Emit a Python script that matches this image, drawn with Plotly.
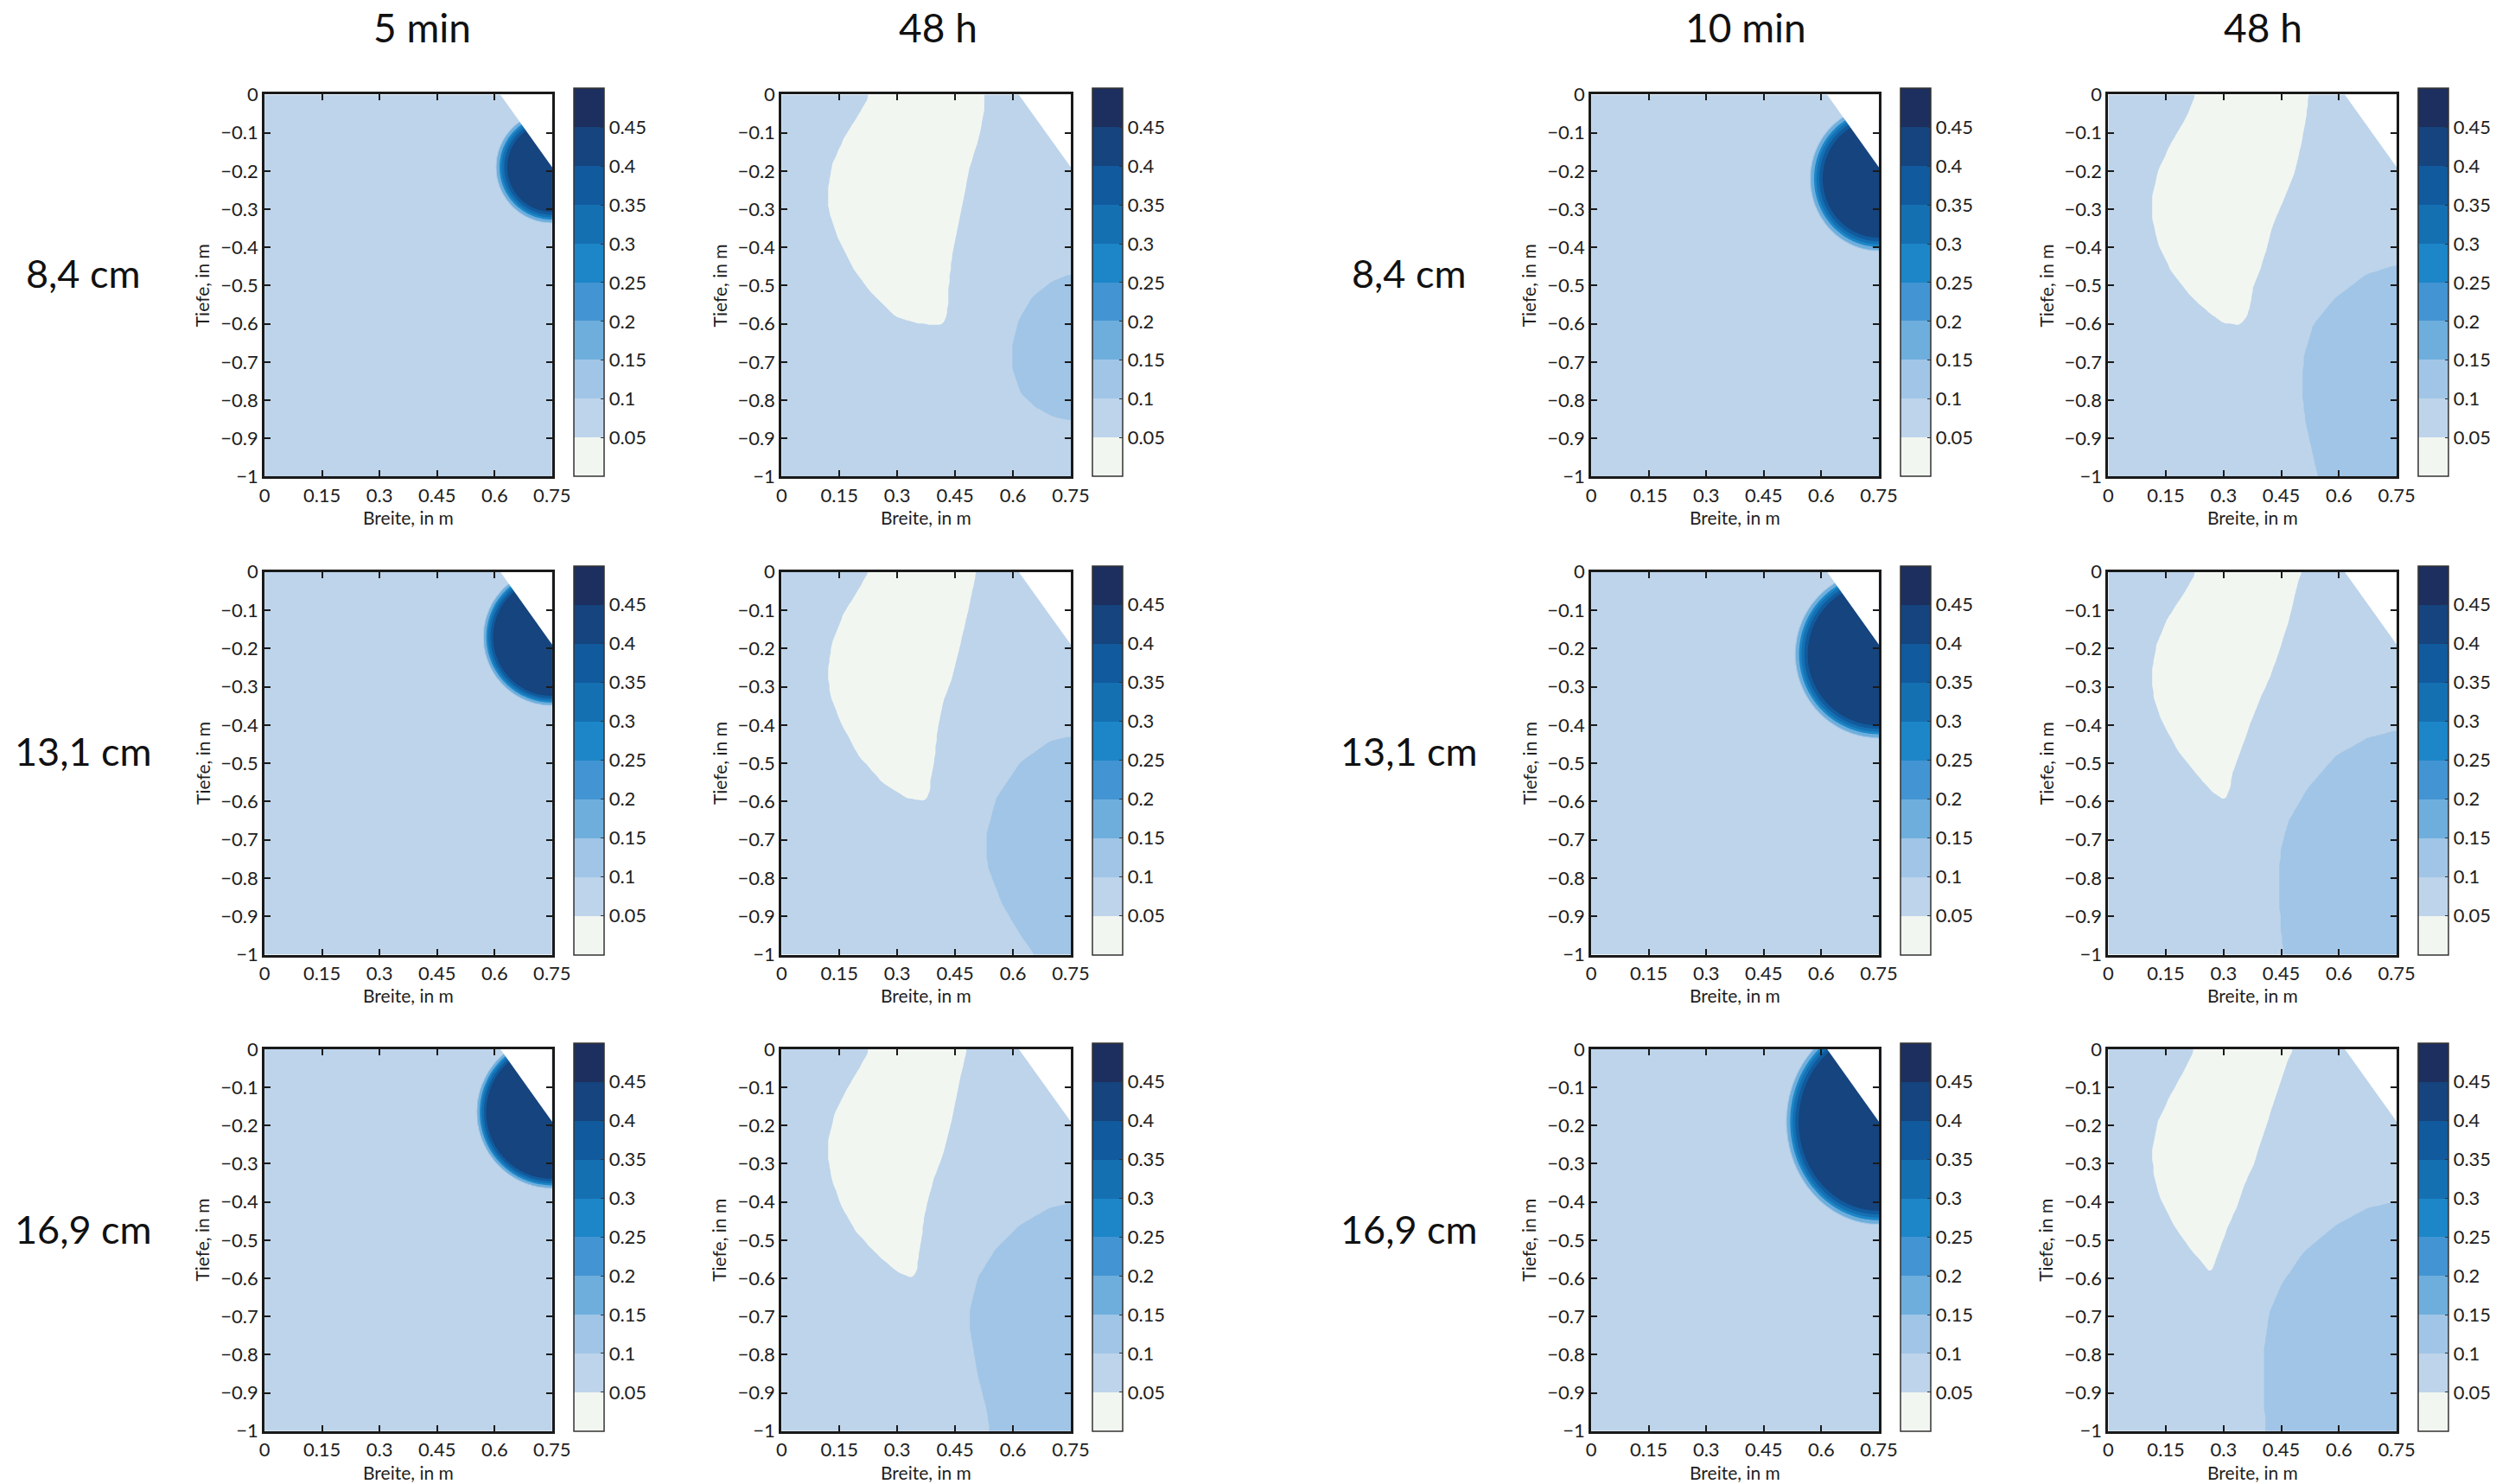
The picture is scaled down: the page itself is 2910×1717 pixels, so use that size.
import numpy as np
import plotly.graph_objects as go

W, H = 2910, 1717

# ---------------------------------------------------------------- labels
col_titles = ["5 min", "48 h", "10 min", "48 h"]
row_labels = ["8,4 cm", "13,1 cm", "16,9 cm"]
x_ticks = [0, 0.15, 0.3, 0.45, 0.6, 0.75]
x_ticktext = ["0", "0.15", "0.3", "0.45", "0.6", "0.75"]
y_ticks = [0, -0.1, -0.2, -0.3, -0.4, -0.5, -0.6, -0.7, -0.8, -0.9, -1]
y_ticktext = ["0", "\u22120.1", "\u22120.2", "\u22120.3", "\u22120.4", "\u22120.5",
              "\u22120.6", "\u22120.7", "\u22120.8", "\u22120.9", "\u22121"]
cbar_ticks = [0.05, 0.1, 0.15, 0.2, 0.25, 0.3, 0.35, 0.4, 0.45]
cbar_ticktext = ["0.05", "0.1", "0.15", "0.2", "0.25", "0.3", "0.35", "0.4", "0.45"]

# ------------------------------------------------- water content classes
level_start, level_end, level_step = 0.05, 0.45, 0.05
cbar_min, cbar_max = 0.0, 0.5
band_colors = ["#f2f6f0", "#bdd4eb", "#a1c5e6", "#6eaedc", "#4394d2",
               "#1c86c8", "#1570b2", "#105a9d", "#15447e", "#1c2f5e"]

theta_background = 0.075   # initial soil moisture
theta_dry = 0.02           # dried-out zone after 48 h
theta_wet = 0.125          # deeper wetted zone after 48 h
theta_core = 0.43          # saturated bulb under the dripper
front_shape = 0.55         # steepness of the wetting front

# ------------------------------------------ wetted bulbs (5 / 10 min)
bulb_5min_cx = [0.75, 0.75, 0.75]
bulb_5min_cy = [-0.19, -0.17, -0.165]
bulb_5min_rx = [0.147, 0.18, 0.197]
bulb_5min_ry = [0.147, 0.18, 0.20]
bulb_5min_core = [0.76, 0.83, 0.85]

bulb_10min_cx = [0.75, 0.75, 0.75]
bulb_10min_cy = [-0.22, -0.215, -0.19]
bulb_10min_rx = [0.18, 0.219, 0.242]
bulb_10min_ry = [0.19, 0.22, 0.27]
bulb_10min_core = [0.78, 0.82, 0.84]

# ---------------------------------- dry zones after 48 h (outline x / y)
dry_84_5_x = [0.225, 0.225, 0.201, 0.163, 0.132, 0.120, 0.124, 0.147, 0.186, 0.232, 0.294,
              0.356, 0.418, 0.429, 0.433, 0.441, 0.464, 0.487, 0.511, 0.526, 0.522]
dry_84_5_y = [0.02, -0.01, -0.051, -0.113, -0.183, -0.253, -0.308, -0.377, -0.455, -0.518, -0.58,
              -0.599, -0.602, -0.572, -0.502, -0.424, -0.308, -0.191, -0.113, -0.035, 0.02]

dry_131_5_x = [0.2245, 0.2245, 0.201, 0.1625, 0.1316, 0.120, 0.128, 0.155, 0.201, 0.263, 0.325,
               0.372, 0.383, 0.387, 0.395, 0.399, 0.403, 0.418, 0.441, 0.464, 0.487, 0.503, 0.505]
dry_131_5_y = [0.02, -0.002, -0.045, -0.107, -0.185, -0.263, -0.325, -0.395, -0.481, -0.551, -0.590,
               -0.598, -0.574, -0.535, -0.497, -0.458, -0.419, -0.341, -0.279, -0.185, -0.084, -0.006, 0.02]

dry_169_5_x = [0.224, 0.224, 0.201, 0.170, 0.139, 0.123, 0.122, 0.131, 0.154, 0.193, 0.247, 0.301,
               0.340, 0.351, 0.355, 0.363, 0.369, 0.378, 0.394, 0.417, 0.440, 0.463, 0.478, 0.480]
dry_169_5_y = [0.02, -0.010, -0.052, -0.105, -0.166, -0.234, -0.287, -0.340, -0.408, -0.477, -0.537, -0.583,
               -0.599, -0.575, -0.537, -0.492, -0.439, -0.400, -0.340, -0.279, -0.188, -0.074, -0.010, 0.02]

dry_84_10_x = [0.225, 0.225, 0.205, 0.164, 0.131, 0.115, 0.116, 0.131, 0.164, 0.213, 0.262, 0.303,
               0.344, 0.361, 0.369, 0.377, 0.393, 0.410, 0.426, 0.459, 0.484, 0.500, 0.512, 0.520, 0.521]
dry_84_10_y = [0.02, -0.006, -0.057, -0.127, -0.197, -0.267, -0.330, -0.392, -0.462, -0.525, -0.571, -0.599,
               -0.601, -0.579, -0.548, -0.501, -0.462, -0.408, -0.345, -0.267, -0.205, -0.135, -0.072, -0.006, 0.02]

dry_131_10_x = [0.225, 0.225, 0.196, 0.155, 0.126, 0.114, 0.118, 0.139, 0.180, 0.229, 0.270, 0.303,
                0.316, 0.322, 0.336, 0.353, 0.369, 0.394, 0.419, 0.444, 0.468, 0.493, 0.501, 0.502]
dry_131_10_y = [0.02, -0.008, -0.059, -0.121, -0.191, -0.262, -0.324, -0.387, -0.465, -0.527, -0.574, -0.596,
                -0.566, -0.527, -0.488, -0.441, -0.395, -0.332, -0.277, -0.207, -0.129, -0.027, -0.004, 0.02]

dry_169_10_x = [0.221, 0.221, 0.196, 0.163, 0.130, 0.115, 0.118, 0.134, 0.171, 0.213, 0.246, 0.266,
                0.279, 0.295, 0.312, 0.336, 0.353, 0.378, 0.394, 0.419, 0.444, 0.464, 0.477, 0.478]
dry_169_10_y = [0.02, -0.010, -0.059, -0.120, -0.188, -0.264, -0.325, -0.385, -0.461, -0.522, -0.560, -0.586,
                -0.552, -0.507, -0.461, -0.408, -0.355, -0.302, -0.249, -0.173, -0.097, -0.036, -0.006, 0.02]

# -------------------------------- wetter zones after 48 h (outline x / y)
wet_84_5_x = [0.80, 0.745, 0.70, 0.65, 0.615, 0.597, 0.60, 0.62, 0.66, 0.71, 0.745, 0.80]
wet_84_5_y = [-0.471, -0.471, -0.49, -0.53, -0.59, -0.66, -0.72, -0.78, -0.82, -0.845, -0.852, -0.852]

wet_131_5_x = [0.80, 0.745, 0.696, 0.619, 0.557, 0.530, 0.534, 0.573, 0.619, 0.654, 0.654, 0.80]
wet_131_5_y = [-0.430, -0.430, -0.442, -0.497, -0.590, -0.691, -0.769, -0.870, -0.948, -0.998, -1.05, -1.05]

wet_169_5_x = [0.80, 0.745, 0.694, 0.617, 0.556, 0.509, 0.490, 0.490, 0.509, 0.532, 0.540, 0.540, 0.80]
wet_169_5_y = [-0.404, -0.404, -0.416, -0.461, -0.522, -0.598, -0.674, -0.742, -0.856, -0.947, -1.0, -1.05, -1.05]

wet_84_10_x = [0.80, 0.746, 0.672, 0.590, 0.533, 0.508, 0.504, 0.512, 0.529, 0.545, 0.545, 0.80]
wet_84_10_y = [-0.447, -0.447, -0.470, -0.532, -0.602, -0.688, -0.774, -0.852, -0.930, -1.0, -1.05, -1.05]

wet_131_10_x = [0.80, 0.749, 0.674, 0.592, 0.518, 0.468, 0.448, 0.444, 0.448, 0.456, 0.456, 0.80]
wet_131_10_y = [-0.414, -0.414, -0.434, -0.480, -0.566, -0.652, -0.730, -0.809, -0.926, -1.0, -1.05, -1.05]

wet_169_10_x = [0.80, 0.749, 0.674, 0.592, 0.509, 0.452, 0.419, 0.406, 0.404, 0.409, 0.409, 0.80]
wet_169_10_y = [-0.399, -0.399, -0.416, -0.461, -0.530, -0.613, -0.689, -0.780, -0.894, -1.0, -1.05, -1.05]

# slope cut-out in the top right corner (outside the soil body)
cut_x = [0.615, 0.75, 0.80, 0.80, 0.615]
cut_y = [0.0, -0.19, -0.19, 0.05, 0.05]

# ---------------------------------------------------------- page layout
col_px = [(303, 639), (907, 1245), (1853, 2189), (2457, 2794)]
cbar_px = [664, 1270, 2214, 2819]
row_px = [(97, 546), (658, 1108), (1219, 1668)]
col_title_px = [(487, 18), (1090, 18), (2034, 18), (2638, 18)]
row_label_x_px = [91, 1640]
row_label_y_px = [307, 869, 1430]

FONT = "Lato, 'Open Sans', sans-serif"
INK = "#1e1e1e"

# --------------------------------------------------------- field helpers
xg = np.linspace(0.0, 0.75, 226)
yg = np.linspace(-1.0, 0.0, 301)
XX, YY = np.meshgrid(xg, yg)


def inside(px, py):
    px = np.asarray(px, float)
    py = np.asarray(py, float)
    res = np.zeros(XX.shape, bool)
    j = len(px) - 1
    for i in range(len(px)):
        xi, yi, xj, yj = px[i], py[i], px[j], py[j]
        if yi != yj:
            cross = (yi > YY) != (yj > YY)
            xint = (xj - xi) * (YY - yi) / (yj - yi) + xi
            res ^= cross & (XX < xint)
        j = i
    return res.astype(float)


def smooth(a, k=5):
    pad = k // 2
    kern = np.ones(k) / k
    b = np.pad(a, pad, mode="edge")
    b = np.apply_along_axis(lambda r: np.convolve(r, kern, mode="valid"), 1, b)
    b = np.apply_along_axis(lambda c: np.convolve(c, kern, mode="valid"), 0, b)
    return b


def bulb_field(cx, cy, rx, ry, core):
    d = np.sqrt(((XX - cx) / rx) ** 2 + ((YY - cy) / ry) ** 2)
    t = np.clip((1.0 - d) / (1.0 - core), 0.0, 1.0) ** front_shape
    return theta_background + (theta_core - theta_background) * t


def late_field(dx, dy, wx, wy):
    dry = smooth(inside(dx, dy))
    wet = smooth(inside(wx, wy))
    return (theta_background + (theta_dry - theta_background) * dry
            + (theta_wet - theta_background) * wet)


def contour_scale(colors):
    # fill colours are sampled at the band centres of the contour levels
    n = len(colors) - 1
    stops = []
    for k in range(n):
        lo = k / n
        hi = (k + 1) / n if k < n - 1 else 0.97
        stops += [[lo, colors[k]], [hi, colors[k]]]
    stops += [[0.97, colors[-1]], [1.0, colors[-1]]]
    return stops


def bar_scale(colors):
    n = len(colors)
    stops = []
    for k, col in enumerate(colors):
        stops += [[k / n, col], [(k + 1) / n, col]]
    return stops


fields = [
    [bulb_field(bulb_5min_cx[0], bulb_5min_cy[0], bulb_5min_rx[0], bulb_5min_ry[0], bulb_5min_core[0]),
     late_field(dry_84_5_x, dry_84_5_y, wet_84_5_x, wet_84_5_y),
     bulb_field(bulb_10min_cx[0], bulb_10min_cy[0], bulb_10min_rx[0], bulb_10min_ry[0], bulb_10min_core[0]),
     late_field(dry_84_10_x, dry_84_10_y, wet_84_10_x, wet_84_10_y)],
    [bulb_field(bulb_5min_cx[1], bulb_5min_cy[1], bulb_5min_rx[1], bulb_5min_ry[1], bulb_5min_core[1]),
     late_field(dry_131_5_x, dry_131_5_y, wet_131_5_x, wet_131_5_y),
     bulb_field(bulb_10min_cx[1], bulb_10min_cy[1], bulb_10min_rx[1], bulb_10min_ry[1], bulb_10min_core[1]),
     late_field(dry_131_10_x, dry_131_10_y, wet_131_10_x, wet_131_10_y)],
    [bulb_field(bulb_5min_cx[2], bulb_5min_cy[2], bulb_5min_rx[2], bulb_5min_ry[2], bulb_5min_core[2]),
     late_field(dry_169_5_x, dry_169_5_y, wet_169_5_x, wet_169_5_y),
     bulb_field(bulb_10min_cx[2], bulb_10min_cy[2], bulb_10min_rx[2], bulb_10min_ry[2], bulb_10min_core[2]),
     late_field(dry_169_10_x, dry_169_10_y, wet_169_10_x, wet_169_10_y)],
]

# ----------------------------------------------------------------- figure
fig = go.Figure()
layout_axes = {}
annotations = []

idx = 0
for r in range(3):
    top, bot = row_px[r]
    for c in range(4):
        idx += 1
        left, right = col_px[c]
        xa = "x" if idx == 1 else f"x{idx}"
        ya = "y" if idx == 1 else f"y{idx}"
        xkey = "xaxis" if idx == 1 else f"xaxis{idx}"
        ykey = "yaxis" if idx == 1 else f"yaxis{idx}"

        fig.add_trace(go.Contour(
            x=xg, y=yg, z=fields[r][c].astype(np.float32),
            xaxis=xa, yaxis=ya,
            colorscale=contour_scale(band_colors),
            contours=dict(start=level_start, end=level_end, size=level_step,
                          coloring="fill", showlines=False),
            line=dict(width=0),
            hoverinfo="skip",
            showscale=False,
        ))
        fig.add_trace(go.Scatter(
            x=cut_x, y=cut_y, xaxis=xa, yaxis=ya,
            mode="lines", fill="toself", fillcolor="#ffffff",
            line=dict(width=0, color="#ffffff"),
            hoverinfo="skip", showlegend=False,
        ))
        # colour key of the water content classes
        fig.add_trace(go.Scatter(
            x=[None], y=[None], xaxis=xa, yaxis=ya, mode="markers",
            hoverinfo="skip", showlegend=False,
            marker=dict(
                color=[cbar_min], cmin=cbar_min, cmax=cbar_max,
                colorscale=bar_scale(band_colors), showscale=True,
                colorbar=dict(
                    x=cbar_px[c] / W, xanchor="left", xpad=0,
                    y=1 - bot / H, yanchor="bottom", ypad=0,
                    len=bot - top, lenmode="pixels",
                    thickness=35, thicknessmode="pixels",
                    outlinewidth=1.5, outlinecolor="#333333",
                    tickvals=cbar_ticks, ticktext=cbar_ticktext,
                    ticks="inside", ticklen=4, tickwidth=1, tickcolor="#333333",
                    tickfont=dict(family=FONT, size=22, color=INK),
                ),
            ),
        ))

        axis_common = dict(
            showgrid=False, zeroline=False,
            showline=True, linewidth=3, linecolor="#1a1a1a", mirror="ticks",
            ticks="inside", ticklen=7, tickwidth=2, tickcolor="#1a1a1a",
            tickfont=dict(family=FONT, size=22, color=INK),
            fixedrange=True,
        )
        layout_axes[xkey] = dict(
            axis_common, domain=[left / W, right / W], anchor=ya,
            range=[0, 0.75], tickvals=x_ticks, ticktext=x_ticktext,
        )
        layout_axes[ykey] = dict(
            axis_common, domain=[1 - bot / H, 1 - top / H], anchor=xa,
            range=[-1, 0], tickvals=y_ticks, ticktext=y_ticktext,
        )

        # axis titles
        annotations.append(dict(
            text="Breite, in m", xref="paper", yref="paper",
            x=(left + right) / 2 / W, y=1 - (bot + 48) / H,
            xanchor="center", yanchor="middle", showarrow=False,
            font=dict(family=FONT, size=21, color=INK),
        ))
        annotations.append(dict(
            text="Tiefe, in m", xref="paper", yref="paper",
            x=(left - 73) / W, y=1 - (top + bot) / 2 / H, textangle=-90,
            xanchor="center", yanchor="middle", showarrow=False,
            font=dict(family=FONT, size=21, color=INK),
        ))

for (tx, ty), txt in zip(col_title_px, col_titles):
    annotations.append(dict(
        text=txt, xref="paper", yref="paper", x=tx / W, y=1 - ty / H,
        xanchor="center", yanchor="middle", showarrow=False,
        font=dict(family=FONT, size=46, color="#111111"),
    ))
for lx in row_label_x_px:
    for ly, txt in zip(row_label_y_px, row_labels):
        annotations.append(dict(
            text=txt, xref="paper", yref="paper", x=lx / W, y=1 - ly / H,
            xanchor="center", yanchor="middle", showarrow=False,
            font=dict(family=FONT, size=45, color="#111111"),
        ))

fig.update_layout(
    width=W, height=H,
    margin=dict(l=0, r=0, t=0, b=0),
    paper_bgcolor="#ffffff", plot_bgcolor="#ffffff",
    showlegend=False,
    annotations=annotations,
    **layout_axes,
)

fig.write_html("out.html", post_script="document.body.style.margin='0px';")
